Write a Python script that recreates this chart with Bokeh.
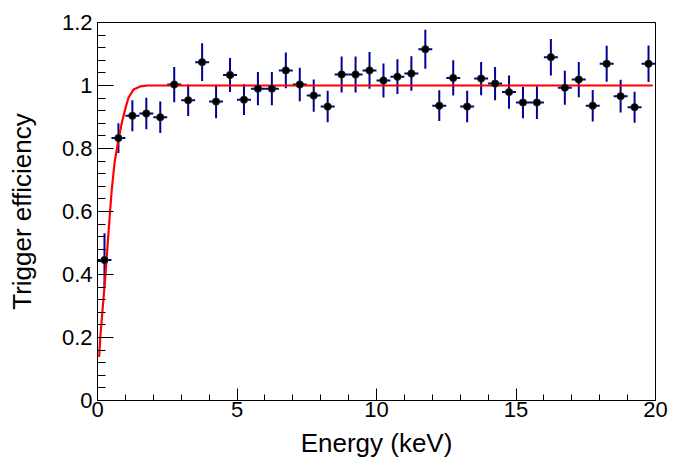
from bokeh.plotting import figure
from bokeh.models import FixedTicker, Range1d
from bokeh.embed import file_html
from bokeh.resources import INLINE

# Data: bin centers (keV), efficiency, vertical error, horizontal half-width
energy = [0.25, 0.75, 1.25, 1.75, 2.25, 2.75, 3.25, 3.75, 4.25, 4.75,
          5.25, 5.75, 6.25, 6.75, 7.25, 7.75, 8.25, 8.75, 9.25, 9.75,
          10.25, 10.75, 11.25, 11.75, 12.25, 12.75, 13.25, 13.75, 14.25, 14.75,
          15.25, 15.75, 16.25, 16.75, 17.25, 17.75, 18.25, 18.75, 19.25, 19.75]
efficiency = [0.446, 0.833, 0.904, 0.911, 0.899, 1.003, 0.953, 1.074, 0.949, 1.033,
              0.955, 0.990, 0.990, 1.048, 1.003, 0.968, 0.933, 1.035, 1.035, 1.048,
              1.016, 1.028, 1.038, 1.115, 0.936, 1.024, 0.933, 1.022, 1.006, 0.979,
              0.946, 0.946, 1.090, 0.993, 1.019, 0.936, 1.069, 0.966, 0.931, 1.069]
eff_err = [0.085, 0.047, 0.049, 0.050, 0.050, 0.056, 0.050, 0.060, 0.053, 0.054,
           0.049, 0.053, 0.053, 0.057, 0.053, 0.051, 0.050, 0.057, 0.057, 0.058,
           0.054, 0.055, 0.055, 0.062, 0.049, 0.056, 0.050, 0.053, 0.053, 0.053,
           0.050, 0.052, 0.058, 0.054, 0.056, 0.050, 0.057, 0.052, 0.049, 0.058]
bin_half = [0.25] * 40

# Fit curve
fit_x = [0.06, 0.10, 0.16, 0.22, 0.28, 0.34, 0.40, 0.45, 0.51, 0.61, 0.75,
         0.87, 0.99, 1.11, 1.29, 1.53, 1.80, 2.10, 19.9]
fit_y = [0.138, 0.202, 0.265, 0.329, 0.393, 0.467, 0.540, 0.600, 0.668, 0.754, 0.828,
         0.881, 0.924, 0.961, 0.987, 0.997, 1.0, 1.0, 1.0]

x_ticks = [0, 5, 10, 15, 20]
x_labels = ["0", "5", "10", "15", "20"]
y_ticks = [0, 0.2, 0.4, 0.6, 0.8, 1, 1.2]
y_labels = ["0", "0.2", "0.4", "0.6", "0.8", "1", "1.2"]

p = figure(width=680, height=460, output_backend="svg", toolbar_location=None,
           x_range=Range1d(0, 20), y_range=Range1d(0, 1.2),
           min_border_left=97, min_border_right=25, min_border_top=22, min_border_bottom=60)
p.xgrid.visible = False
p.ygrid.visible = False
p.outline_line_color = "black"
p.outline_line_width = 1
p.background_fill_color = "white"
p.border_fill_color = "white"

FONT = "Liberation Sans"

p.xaxis.ticker = FixedTicker(ticks=x_ticks, minor_ticks=list(range(0, 21)))
p.xaxis.major_label_overrides = {t: l for t, l in zip(x_ticks, x_labels)}
yminor = [round(i * 0.04, 2) for i in range(0, 31)]
p.yaxis.ticker = FixedTicker(ticks=y_ticks, minor_ticks=yminor)
p.yaxis.major_label_overrides = {t: l for t, l in zip(y_ticks, y_labels)}

for ax in (p.xaxis[0], p.yaxis[0]):
    ax.axis_line_color = "black"
    ax.major_tick_line_color = "black"
    ax.minor_tick_line_color = "black"
    ax.major_tick_out = 0
    ax.minor_tick_out = 0
    ax.major_label_text_font = FONT
    ax.major_label_text_font_size = "22px"
    ax.major_label_text_color = "black"
    ax.axis_label_text_font = FONT
    ax.axis_label_text_font_size = "26px"
    ax.axis_label_text_font_style = "normal"
    ax.axis_label_text_color = "black"

p.xaxis.major_tick_in = 12
p.xaxis.minor_tick_in = 6
p.yaxis.major_tick_in = 16
p.yaxis.minor_tick_in = 8
p.xaxis.major_label_standoff = 1
p.yaxis.major_label_standoff = 5
p.xaxis.axis_label = "Energy (keV)"
p.yaxis.axis_label = "Trigger efficiency"
p.xaxis.axis_label_standoff = 8
p.yaxis.axis_label_standoff = 22

lo = [e - s for e, s in zip(efficiency, eff_err)]
hi = [e + s for e, s in zip(efficiency, eff_err)]
xl = [x - h for x, h in zip(energy, bin_half)]
xr = [x + h for x, h in zip(energy, bin_half)]

BLUE = "#000099"
p.segment(x0=energy, y0=lo, x1=energy, y1=hi, line_color=BLUE, line_width=2)
p.segment(x0=xl, y0=efficiency, x1=xr, y1=efficiency, line_color=BLUE, line_width=2)

p.line(fit_x, fit_y, line_color="red", line_width=2.2)

p.scatter(energy, efficiency, marker="square", angle=0.785398, size=6.5,
          fill_color="black", line_color="#333333", line_width=0.5)
p.scatter(energy, efficiency, marker="circle", size=7.5,
          fill_color="black", line_color="#444444", line_width=0.5)

open("out.html", "w").write(file_html(p, INLINE))
